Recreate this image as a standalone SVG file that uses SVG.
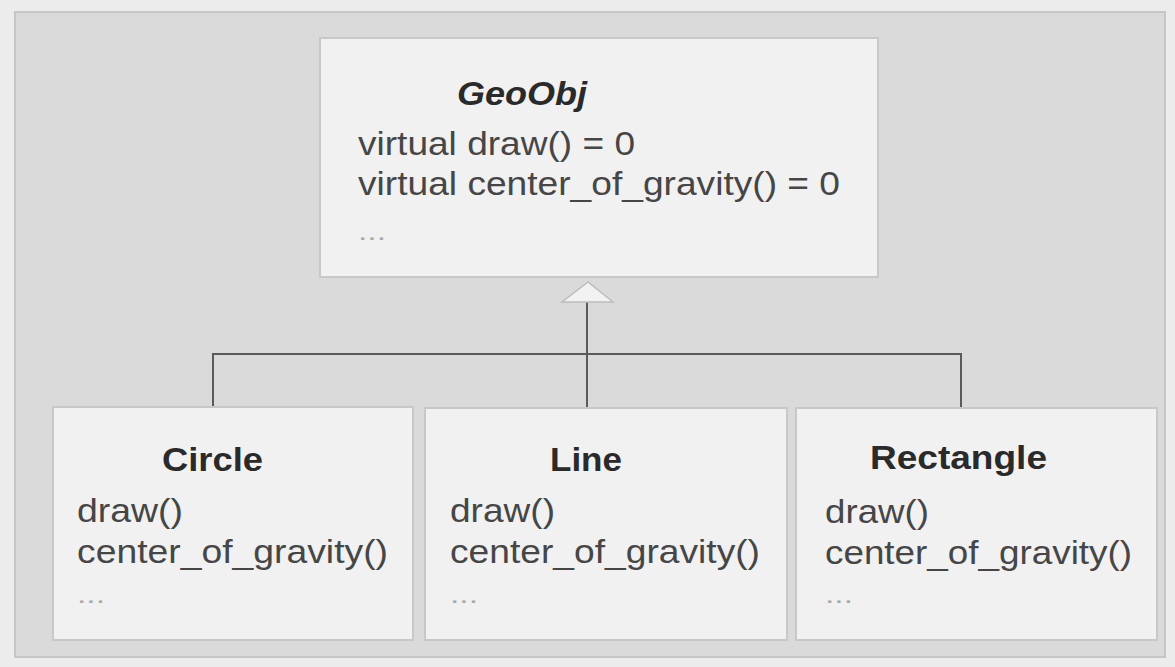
<svg xmlns="http://www.w3.org/2000/svg" width="1175" height="667" viewBox="0 0 1175 667">
  <defs>
    <style>
      .box { fill: #f1f1f1; stroke: #c8c8c8; stroke-width: 2; }
      .title { font-family: "Liberation Sans", Arial, sans-serif; font-size: 33px; font-weight: bold; fill: #2a2a2a; }
      .ital { font-style: italic; }
      .body { font-family: "Liberation Sans", Arial, sans-serif; font-size: 34px; fill: #464646; }
      .dots { font-family: "Liberation Sans", Arial, sans-serif; font-size: 24px; fill: #a8a8a8; }
      .conn { stroke: #5a5a5a; stroke-width: 2; fill: none; }
    </style>
  </defs>

  <rect x="0" y="0" width="1175" height="667" fill="#ececec"/>
  <rect x="15" y="12" width="1150" height="645" fill="#dadada" stroke="#c6c6c6" stroke-width="2"/>

  <g id="connectors">
    <polyline class="conn" points="213,407 213,354 961,354 961,407"/>
    <line class="conn" x1="587" y1="300" x2="587" y2="407"/>
    <polygon points="588,282 562,302 613,302" fill="#f2f2f2" stroke="#bdbdbd" stroke-width="1.5"/>
  </g>

  <g id="geoobj">
    <rect class="box" x="320" y="38" width="558" height="239"/>
    <text class="title ital" x="457" y="105" textLength="130" lengthAdjust="spacingAndGlyphs">GeoObj</text>
    <text class="body" x="358" y="155" textLength="277" lengthAdjust="spacingAndGlyphs">virtual draw() = 0</text>
    <text class="body" x="358" y="195" textLength="482" lengthAdjust="spacingAndGlyphs">virtual center_of_gravity() = 0</text>
    <text class="dots" x="358" y="240" textLength="28" lengthAdjust="spacingAndGlyphs">...</text>
  </g>

  <g id="circle">
    <rect class="box" x="53" y="407" width="360" height="233"/>
    <text class="title" x="162" y="471" textLength="101" lengthAdjust="spacingAndGlyphs">Circle</text>
    <text class="body" x="77" y="522" textLength="106" lengthAdjust="spacingAndGlyphs">draw()</text>
    <text class="body" x="77" y="563" textLength="311" lengthAdjust="spacingAndGlyphs">center_of_gravity()</text>
    <text class="dots" x="77" y="603" textLength="28" lengthAdjust="spacingAndGlyphs">...</text>
  </g>

  <g id="line">
    <rect class="box" x="425" y="408" width="362" height="232"/>
    <text class="title" x="550" y="471" textLength="72" lengthAdjust="spacingAndGlyphs">Line</text>
    <text class="body" x="450" y="522" textLength="105" lengthAdjust="spacingAndGlyphs">draw()</text>
    <text class="body" x="450" y="563" textLength="310" lengthAdjust="spacingAndGlyphs">center_of_gravity()</text>
    <text class="dots" x="450" y="603" textLength="28" lengthAdjust="spacingAndGlyphs">...</text>
  </g>

  <g id="rectangle">
    <rect class="box" x="796" y="408" width="361" height="232"/>
    <text class="title" x="870" y="469" textLength="177" lengthAdjust="spacingAndGlyphs">Rectangle</text>
    <text class="body" x="825" y="523" textLength="104" lengthAdjust="spacingAndGlyphs">draw()</text>
    <text class="body" x="825" y="564" textLength="307" lengthAdjust="spacingAndGlyphs">center_of_gravity()</text>
    <text class="dots" x="825" y="603" textLength="28" lengthAdjust="spacingAndGlyphs">...</text>
  </g>
</svg>
